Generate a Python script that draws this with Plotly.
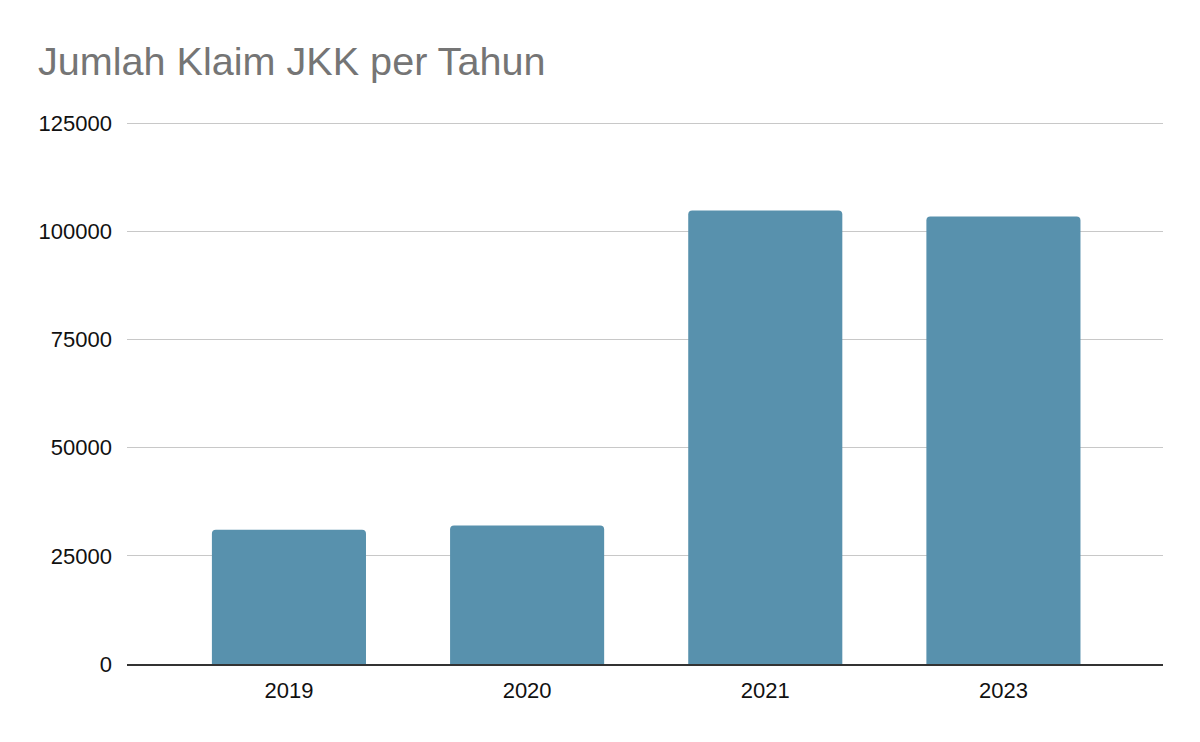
import plotly.graph_objects as go

years = ["2019", "2020", "2021", "2023"]
claims = [31000, 32000, 104800, 103400]
y_ticks = [0, 25000, 50000, 75000, 100000, 125000]

fig = go.Figure(
    go.Bar(
        x=years,
        y=claims,
        marker=dict(color="#5891AD", line=dict(width=0), cornerradius=4),
        hoverinfo="x+y",
    )
)

fig.update_layout(
    width=1200,
    height=742,
    paper_bgcolor="white",
    plot_bgcolor="white",
    margin=dict(l=127, r=37, t=122, b=78),
    bargap=0.353,
    font=dict(family="Liberation Sans, Arial, sans-serif", size=22, color="#111111"),
    title=dict(
        text="Jumlah Klaim JKK per Tahun",
        font=dict(family="Liberation Sans, Arial, sans-serif", size=39.6, color="#757575"),
        xref="container",
        yref="container",
        x=38 / 1200,
        xanchor="left",
        y=1 - 61 / 742,
        yanchor="middle",
    ),
    showlegend=False,
)

fig.update_xaxes(
    type="category",
    range=[-0.68, 3.67],
    showgrid=False,
    showline=True,
    linecolor="#333333",
    linewidth=2,
    ticks="",
    ticklabelstandoff=6,
    tickfont=dict(size=22, color="#111111"),
)

fig.update_yaxes(
    range=[0, 125250],
    tickvals=y_ticks,
    ticktext=[str(v) for v in y_ticks],
    showgrid=True,
    gridcolor="#C8C8C8",
    gridwidth=1,
    zeroline=False,
    showline=False,
    ticks="",
    ticklabelstandoff=14,
    tickfont=dict(size=22, color="#111111"),
)

fig.write_html(
    "out.html",
    config={"displayModeBar": False},
    post_script="document.body.style.margin='0';document.body.style.padding='0';",
)
